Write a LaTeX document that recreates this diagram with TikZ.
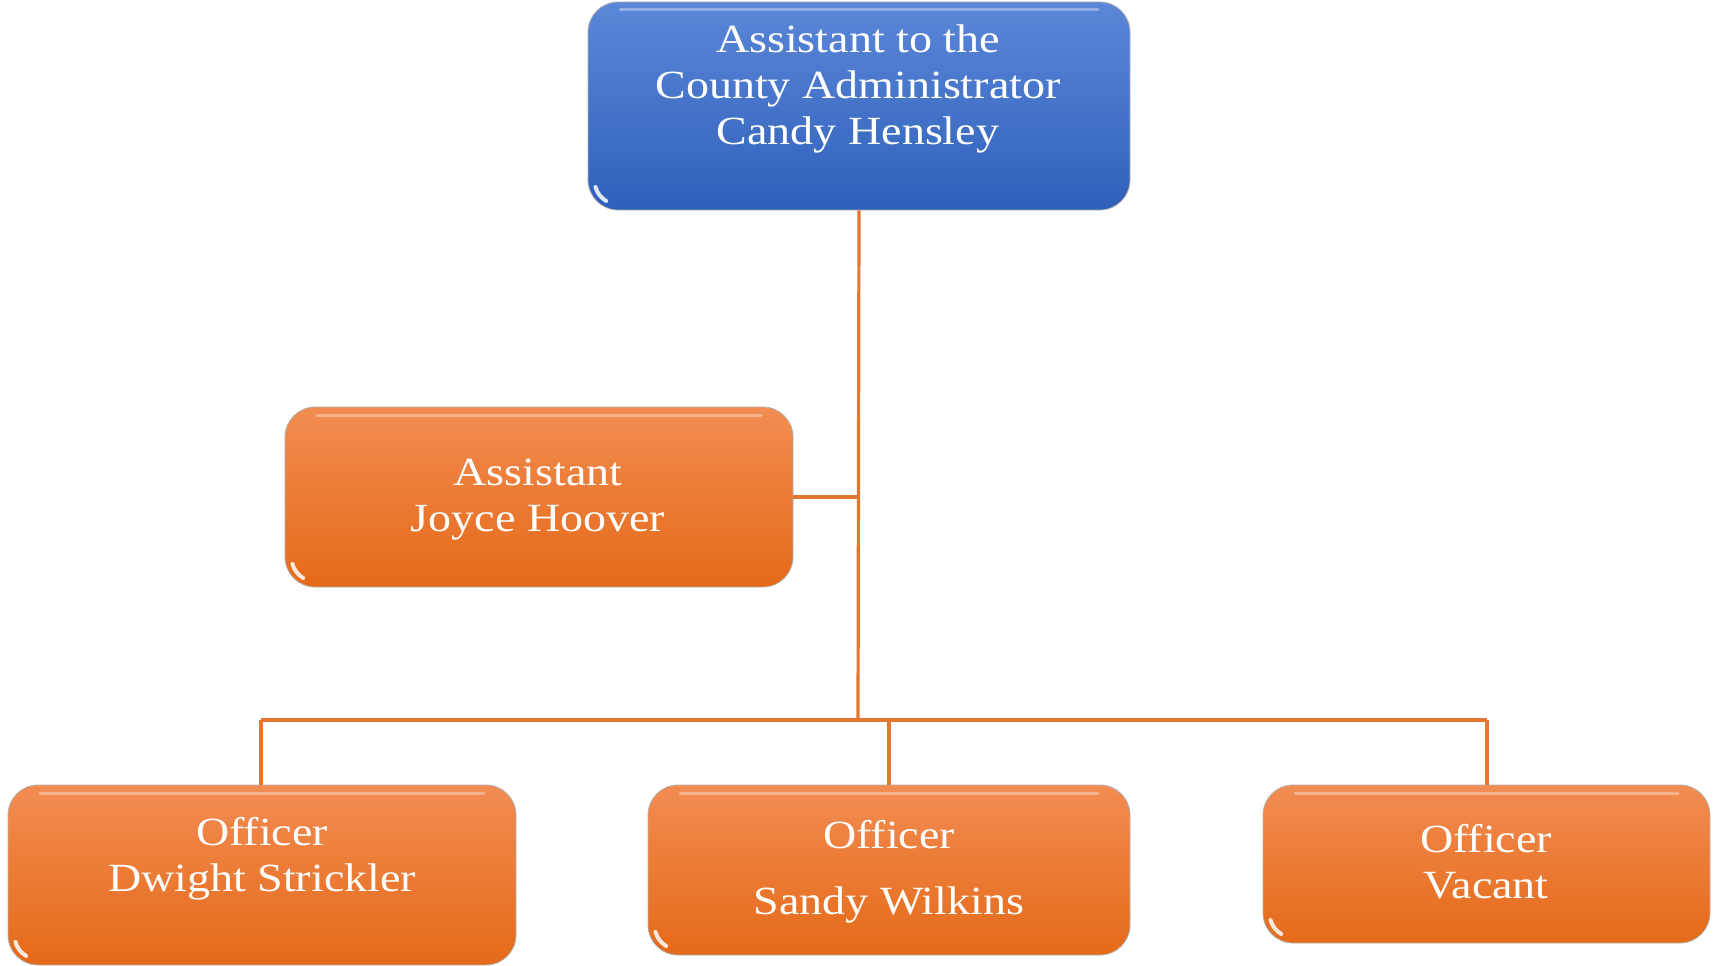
\documentclass[tikz,border=0pt]{standalone}
\usepackage{fontspec}
\setmainfont{Liberation Serif}[FakeStretch=1.15]
\tikzset{
  x=1pt, y=-1pt,
  box/.style={draw=black!30, line width=0.8pt, rounded corners=30pt, inner sep=0pt},
  bluebox/.style={box, top color=headtop, bottom color=headbot},
  orangebox/.style={box, top color=stafftop, bottom color=staffbot},
  lbl/.style={text=white, align=center, font=\fontsize{40}{46}\selectfont, inner sep=0pt},
  link/.style={draw=linkc, line width=3.2pt},
  gloss/.style={draw=white, line width=3pt, opacity=0.35, line cap=round},
  glint/.style={draw=white, line width=4pt, opacity=0.85, line cap=round},
}
\definecolor{headtop}{HTML}{5B87D8}
\definecolor{headbot}{HTML}{2F60BA}
\definecolor{stafftop}{HTML}{F28C52}
\definecolor{staffbot}{HTML}{E56A18}
\definecolor{linkc}{HTML}{E2782F}
\newcommand{\orgbox}[6]{%
  % #1 name, #2 style, #3 left, #4 top, #5 right, #6 bottom
  \node[#2, minimum width={#5-#3}, minimum height={#6-#4}] (#1) at ({(#3+#5)/2},{(#4+#6)/2}) {};
  \draw[gloss] ({#3+32},{#4+8}) -- ({#5-32},{#4+8});
  % small shine following the lower-left rounded corner
  \draw[glint] ({#3+7.5},{#6-23}) arc[start angle=195, end angle=240, radius=23pt];
}
\begin{document}
\begin{tikzpicture}
\useasboundingbox (0,0) rectangle (1717,966);

\coordinate (trunkend) at (858,720);
\coordinate (busL) at (261,720);
\coordinate (busR) at (1487,720);

% boxes
\orgbox{head}{bluebox}{588}{2}{1130}{210}
\orgbox{asst}{orangebox}{285}{407}{793}{587}
\orgbox{offa}{orangebox}{8}{785}{516}{965}
\orgbox{offb}{orangebox}{648}{785}{1130}{955}
\orgbox{offc}{orangebox}{1263}{785}{1710}{943}

% reporting lines
\draw[link] (head.south) -- (trunkend);
\draw[link] (asst.east) -- (asst.east -| head.south);
\draw[link] (busL) -- (busR);
\draw[link] (busL) -- (offa.north -| busL);
\draw[link] (trunkend -| offb.north) -- (offb.north);
\draw[link] (busR) -- (offc.north -| busR);

% labels
\node[lbl] (headtxt) at (858,89) {Assistant to the\\County Administrator\\Candy Hensley};
\node[lbl] (assttxt) at (538,500) {Assistant\\Joyce Hoover};
\node[lbl] (offatxt) at (262,859) {Officer\\Dwight Strickler};
\node[lbl] (offbtxt) at (889,872) {Officer\\[20pt]Sandy Wilkins};
\node[lbl] (offctxt) at (1486,862) {Officer\\Vacant};
\end{tikzpicture}
\end{document}
